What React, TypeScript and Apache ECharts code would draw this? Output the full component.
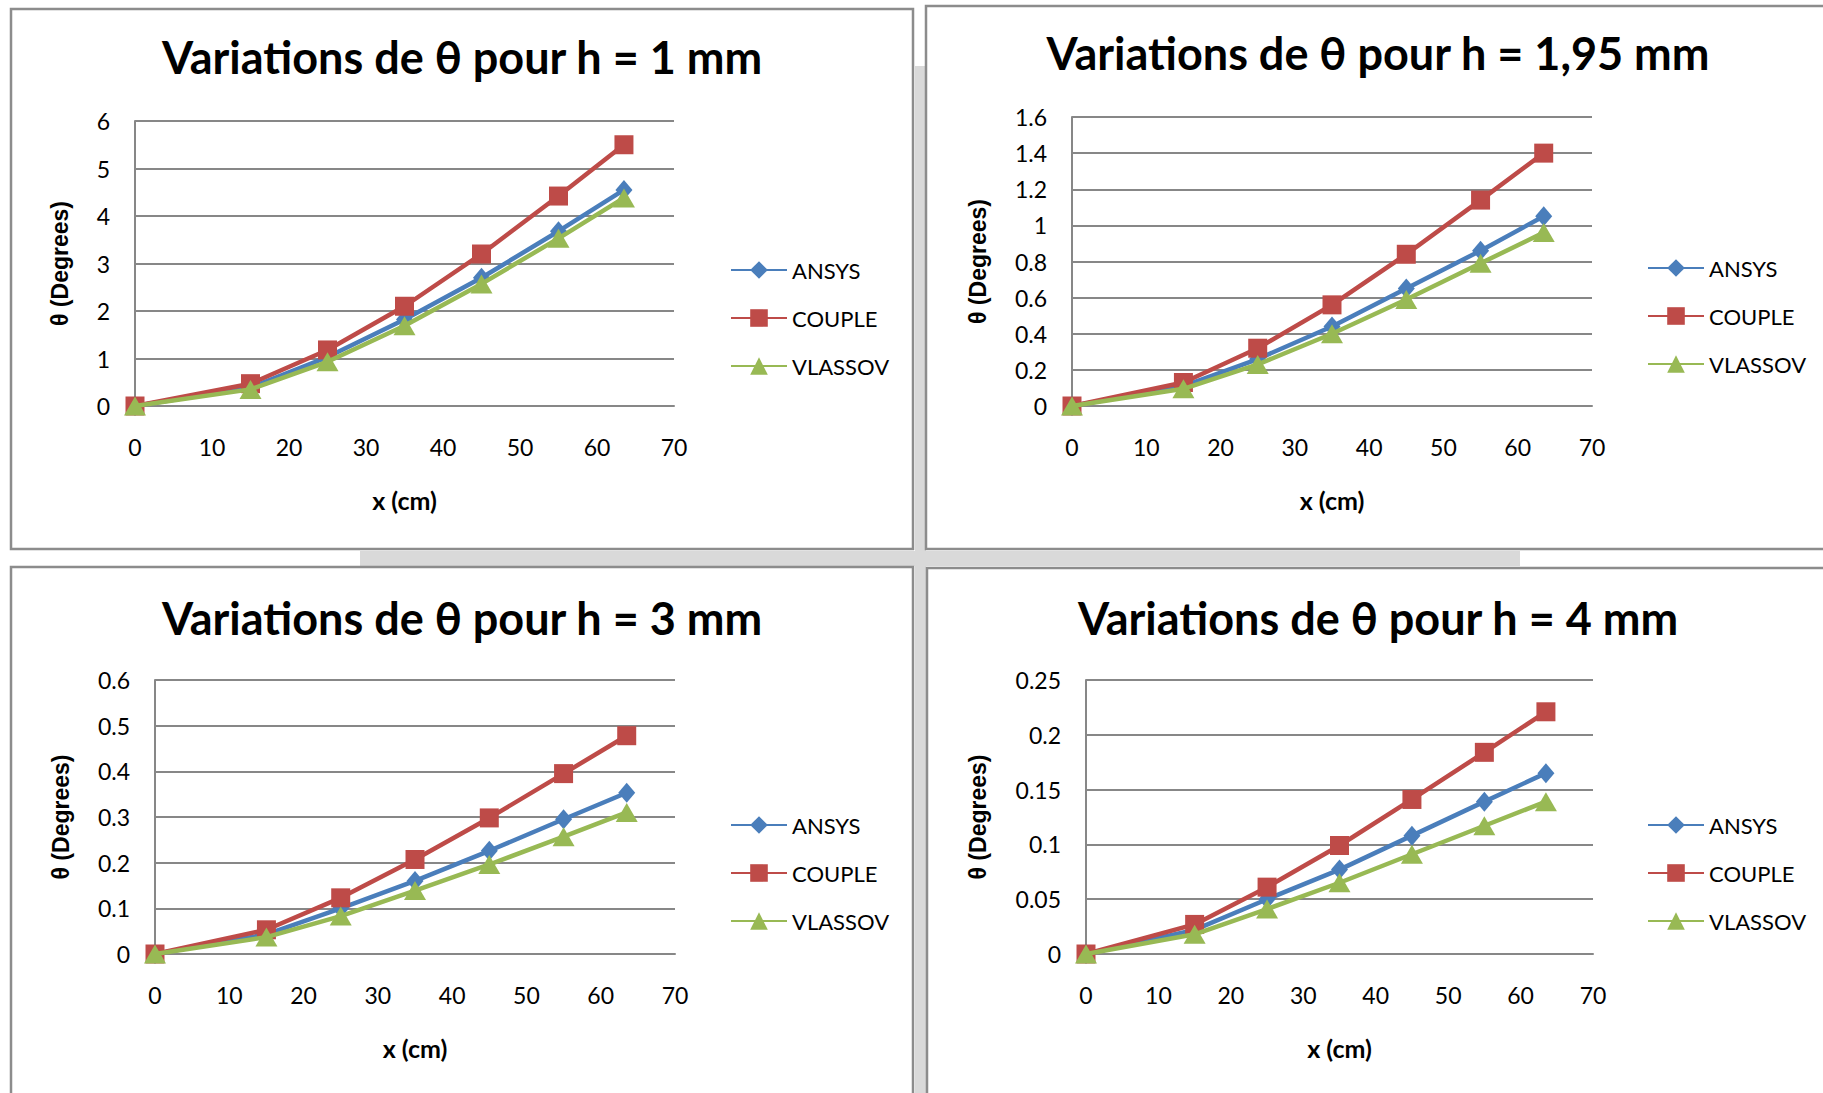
import React, { useEffect, useRef } from "react";
import * as echarts from "echarts";

const X_CM = [0, 15, 25, 35, 45, 55, 63.5];
const NAMES = ["ANSYS", "COUPLE", "VLASSOV"];
const TITLES = [
  "Variations de θ pour h = 1 mm",
  "Variations de θ pour h = 1,95 mm",
  "Variations de θ pour h = 3 mm",
  "Variations de θ pour h = 4 mm",
];

// h = 1 mm
const ANSYS_1 = [0, 0.39, 1.03, 1.82, 2.7, 3.68, 4.55];
const COUPLE_1 = [0, 0.47, 1.18, 2.1, 3.2, 4.42, 5.5];
const VLASSOV_1 = [0, 0.35, 0.93, 1.69, 2.57, 3.53, 4.38];
// h = 1,95 mm
const ANSYS_2 = [0, 0.11, 0.26, 0.44, 0.65, 0.86, 1.05];
const COUPLE_2 = [0, 0.13, 0.32, 0.56, 0.84, 1.14, 1.4];
const VLASSOV_2 = [0, 0.095, 0.23, 0.4, 0.59, 0.79, 0.96];
// h = 3 mm
const ANSYS_3 = [0, 0.043, 0.1, 0.16, 0.226, 0.295, 0.353];
const COUPLE_3 = [0, 0.053, 0.123, 0.207, 0.298, 0.395, 0.478];
const VLASSOV_3 = [0, 0.037, 0.083, 0.139, 0.196, 0.257, 0.31];
// h = 4 mm
const ANSYS_4 = [0, 0.022, 0.05, 0.077, 0.108, 0.139, 0.165];
const COUPLE_4 = [0, 0.027, 0.061, 0.099, 0.141, 0.184, 0.221];
const VLASSOV_4 = [0, 0.018, 0.041, 0.065, 0.091, 0.117, 0.139];

const Y_MAX = [6, 1.6, 0.6, 0.25];
const Y_INTERVAL = [1, 0.2, 0.1, 0.05];
const X_MAX = 70;
const X_INTERVAL = 10;

const PANEL_DATA = [
  [ANSYS_1, COUPLE_1, VLASSOV_1],
  [ANSYS_2, COUPLE_2, VLASSOV_2],
  [ANSYS_3, COUPLE_3, VLASSOV_3],
  [ANSYS_4, COUPLE_4, VLASSOV_4],
];

const COLORS = ["#4A7EBB", "#BE4B48", "#98B954"];
const SYMBOLS = ["diamond", "rect", "triangle"];
const SYMBOL_SIZES: any[] = [[17, 20], [19, 19], [22, 19]];

const GRIDS = [
  { left: 135, top: 121, width: 539, height: 285 },
  { left: 1072, top: 117, width: 520, height: 289 },
  { left: 155, top: 680, width: 520, height: 274 },
  { left: 1086, top: 680, width: 507, height: 274 },
];
const Y_NAME_GAP = [64, 83, 83, 97];
const TITLE_POS = [
  [462, 57],
  [1378, 53],
  [462, 618],
  [1378, 618],
];
const LEGEND_POS = [
  [725, 254],
  [1642, 252],
  [725, 809],
  [1642, 809],
];
const PANELS = [
  { x: 11, y: 9, width: 902, height: 540 },
  { x: 926, y: 6, width: 1000, height: 543 },
  { x: 11, y: 567, width: 902, height: 600 },
  { x: 927, y: 568, width: 1000, height: 600 },
];

const GRID_COLOR = "#878787";
const FONT = "Lato";

export default function App() {
  const ref = useRef<HTMLDivElement>(null);
  useEffect(() => {
    if (!ref.current) return;
    const chart = echarts.init(ref.current, null, { renderer: "svg" });

    const xAxes = GRIDS.map((_, i) => ({
      type: "value",
      gridIndex: i,
      min: 0,
      max: X_MAX,
      interval: X_INTERVAL,
      name: "x (cm)",
      nameLocation: "middle",
      nameGap: 81,
      nameTextStyle: { fontFamily: FONT, fontWeight: "bold", fontSize: 25, color: "#000" },
      axisLine: { show: true, lineStyle: { color: GRID_COLOR, width: 2 } },
      axisTick: { show: false },
      splitLine: { show: false },
      axisLabel: { fontFamily: FONT, fontSize: 23, color: "#000", margin: 29 },
    }));
    const yAxes = GRIDS.map((_, i) => ({
      type: "value",
      gridIndex: i,
      min: 0,
      max: Y_MAX[i],
      interval: Y_INTERVAL[i],
      name: "θ (Degrees)",
      nameLocation: "middle",
      nameRotate: 90,
      nameGap: Y_NAME_GAP[i],
      nameTextStyle: {
        fontFamily: "Liberation Sans",
        fontWeight: "bold",
        fontSize: 23,
        color: "#000",
      },
      axisLine: { show: true, lineStyle: { color: GRID_COLOR, width: 2 } },
      axisTick: { show: false },
      splitLine: { show: true, lineStyle: { color: GRID_COLOR, width: 2 } },
      axisLabel: { fontFamily: FONT, fontSize: 23, color: "#000", margin: 25 },
    }));

    const series: any[] = [];
    PANEL_DATA.forEach((sets, gi) => {
      sets.forEach((vals, si) => {
        series.push({
          type: "line",
          name: NAMES[si],
          xAxisIndex: gi,
          yAxisIndex: gi,
          data: X_CM.map((x, k) => [x, vals[k]]),
          symbol: SYMBOLS[si],
          symbolSize: SYMBOL_SIZES[si],
          showSymbol: true,
          lineStyle: { color: COLORS[si], width: 4.5 },
          itemStyle: { color: COLORS[si] },
          z: 2 + si,
        });
      });
    });

    const legends = LEGEND_POS.map(([l, t]) => ({
      left: l,
      top: t,
      orient: "vertical",
      itemWidth: 56,
      itemHeight: 22,
      itemGap: 26,
      selectedMode: false,
      textStyle: { fontFamily: FONT, fontSize: 22, color: "#000", lineHeight: 22 },
      data: NAMES,
    }));

    const graphics: any[] = [
      // faint watermark visible in the gaps
      { type: "rect", shape: { x: 915, y: 66, width: 11, height: 1030 }, style: { fill: "#d9d9d9" }, z: -10 },
      { type: "rect", shape: { x: 360, y: 551, width: 1160, height: 15 }, style: { fill: "#d9d9d9" }, z: -10 },
      ...PANELS.map((p) => ({
        type: "rect",
        shape: p,
        style: { fill: "#ffffff", stroke: "#8c8c8c", lineWidth: 2.5 },
        z: -5,
      })),
      ...TITLES.map((t, i) => ({
        type: "text",
        x: TITLE_POS[i][0],
        y: TITLE_POS[i][1],
        style: {
          text: t,
          fontFamily: FONT,
          fontWeight: "bold",
          fontSize: 45,
          fill: "#000",
          textAlign: "center",
          textVerticalAlign: "middle",
        },
        z: 10,
      })),
    ];

    chart.setOption({
      animation: false,
      backgroundColor: "#ffffff",
      grid: GRIDS,
      xAxis: xAxes,
      yAxis: yAxes,
      legend: legends,
      series,
      graphic: graphics,
    });
    return () => chart.dispose();
  }, []);
  return (
    <div
      ref={ref}
      style={{ position: "fixed", left: 0, top: 0, width: 1823, height: 1093 }}
    />
  );
}
